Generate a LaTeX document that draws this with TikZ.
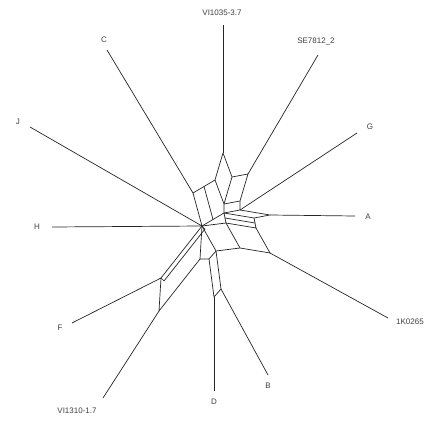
\documentclass[tikz,border=0pt]{standalone}
\usepackage{fontspec}
\setmainfont{Liberation Sans}
\begin{document}
\begin{tikzpicture}[x=1pt,y=-1pt,
  net/.style={draw=black!85, line width=0.7pt, line join=round},
  lab/.style={font=\fontsize{8}{9}\selectfont, text=black!75, inner sep=0pt}]
\useasboundingbox (0,0) rectangle (428,422);
\fill[white] (0,0) rectangle (428,422);
% leaf ends
\coordinate (Vl) at (223,25);
\coordinate (Sl) at (318,55);
\coordinate (Cl) at (107,50);
\coordinate (Gl) at (357,133);
\coordinate (Jl) at (30,127);
\coordinate (Hl) at (52,227);
\coordinate (Al) at (355,216);
\coordinate (Kl) at (388,318);
\coordinate (Fl) at (72,323);
\coordinate (Wl) at (103,398);
\coordinate (Dl) at (214,391);
\coordinate (Bl) at (268,375);
% internal vertices
\coordinate (O) at (202,226);
\coordinate (Ob) at (205,229);
\coordinate (c) at (193,193);
\coordinate (A1) at (224,213);
\coordinate (vl) at (215,180);
\coordinate (v) at (223,153);
\coordinate (vb) at (224,204);
\coordinate (vr) at (232,177);
\coordinate (s) at (248,174);
\coordinate (s2) at (240,201);
\coordinate (gb) at (240,210);
\coordinate (A2) at (254,218);
\coordinate (a) at (270,215);
\coordinate (K3) at (226,223);
\coordinate (K1) at (256,228);
\coordinate (K2) at (240,248);
\coordinate (k) at (270,253);
\coordinate (Dd2) at (216,251);
\coordinate (Dd1) at (209,259);
\coordinate (b) at (221,289);
\coordinate (d) at (214,297);
\coordinate (L1) at (200,259);
\coordinate (f) at (161,278);
\coordinate (fb) at (164,281);
\coordinate (w) at (159,311);
\coordinate (P1) at (213,219.5);
\coordinate (P2) at (204,186.5);
\coordinate (R1) at (225,218);
\coordinate (R2) at (255,223);
% labels
\node[lab] (tV) at (222,13) {VI1035-3.7};
\node[lab] (tS) at (316,42) {SE7812\_2};
\node[lab] (tC) at (104,40) {C};
\node[lab] (tG) at (370,127) {G};
\node[lab] (tJ) at (18,122) {J};
\node[lab] (tH) at (37,227) {H};
\node[lab] (tA) at (368,217) {A};
\node[lab,anchor=west] (tK) at (396,322) {1K0265};
\node[lab] (tF) at (60,328) {F};
\node[lab] (tW) at (77,411) {VI1310-1.7};
\node[lab] (tD) at (214,402) {D};
\node[lab] (tB) at (268,386) {B};
% leaf edges
\draw[net] (Vl) -- (v);
\draw[net] (Sl) -- (s);
\draw[net] (Cl) -- (c);
\draw[net] (Gl) -- (gb);
\draw[net] (Jl) -- (O);
\draw[net] (Hl) -- (O);
\draw[net] (Al) -- (a);
\draw[net] (Kl) -- (k);
\draw[net] (Fl) -- (f);
\draw[net] (Wl) -- (w);
\draw[net] (Dl) -- (d);
\draw[net] (Bl) -- (b);
% network
\draw[net] (O) -- (c) -- (vl) -- (v) -- (vr) -- (vb) -- (vl);
\draw[net] (vb) -- (A1) -- (O);
\draw[net] (vr) -- (s) -- (s2) -- (vb);
\draw[net] (s2) -- (gb) -- (A1);
\draw[net] (gb) -- (a) -- (A2) -- (A1);
\draw[net] (A1) -- (K3);
\draw[net] (A2) -- (K1) -- (K3);
\draw[net] (K1) -- (k) -- (K2) -- (K3) -- (O);
\draw[net] (K2) -- (Dd2) -- (O);
\draw[net] (Dd2) -- (Dd1) -- (d) -- (b) -- (Dd2);
\draw[net] (Dd1) -- (L1) -- (O);
\draw[net] (L1) -- (w) -- (f) -- (O);
\draw[net] (O) -- (Ob) -- (fb) -- (f);
\draw[net] (P1) -- (P2);
\draw[net] (R1) -- (R2);
\end{tikzpicture}
\end{document}
